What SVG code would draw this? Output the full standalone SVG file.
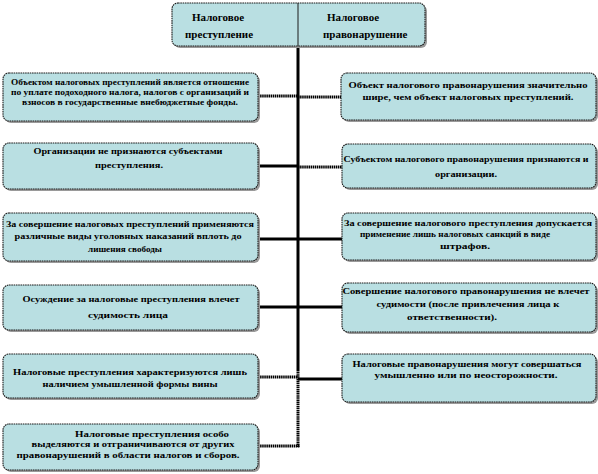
<svg xmlns="http://www.w3.org/2000/svg" width="598" height="474" viewBox="0 0 598 474">
<defs>
<style>
.box{fill:#b9dfe2;stroke:#1a1a1a;stroke-width:1.1;stroke-dasharray:1.6 0.7}
.sh{fill:#9a9a9a}
.t{font-family:"Liberation Serif","Times New Roman",serif;font-weight:bold;font-size:9px;fill:#000;text-anchor:middle}
.h{font-family:"Liberation Serif","Times New Roman",serif;font-weight:bold;font-size:11px;fill:#000}
.c{stroke:#000;stroke-width:3;fill:none}
.d{stroke:#000;stroke-width:3;fill:none;stroke-dasharray:1.5 0.6}
</style>
</defs>
<rect width="598" height="474" fill="#fff"/>
<g id="connectors">
<line class="c" x1="298" y1="46" x2="298" y2="370"/>
<line class="d" x1="298" y1="370" x2="298" y2="447"/>
<line class="d" x1="258" y1="96" x2="298" y2="96"/>
<line class="d" x1="298" y1="97" x2="341" y2="97"/>
<line class="c" x1="258" y1="166" x2="298" y2="166"/>
<line class="d" x1="298" y1="167" x2="342" y2="167"/>
<line class="c" x1="258" y1="239" x2="298" y2="239"/>
<line class="c" x1="298" y1="239" x2="342" y2="239"/>
<line class="c" x1="258" y1="307" x2="298" y2="307"/>
<line class="c" x1="298" y1="307" x2="342" y2="307"/>
<line class="d" x1="258" y1="377" x2="298" y2="377"/>
<line class="c" x1="298" y1="379" x2="342" y2="379"/>
<line class="d" x1="258" y1="446" x2="299.5" y2="446"/>
</g>
<g id="header">
<rect class="sh" x="174" y="5" width="253" height="43" rx="6"/>
<rect class="box" x="172" y="3" width="253" height="43" rx="6"/>
<line x1="298" y1="3" x2="298" y2="46" stroke="#1a1a1a" stroke-width="1"/>
<text class="h" x="192" y="21">Налоговое</text>
<text class="h" x="185" y="38">преступление</text>
<text class="h" x="327" y="21">Налоговое</text>
<text class="h" x="323" y="38">правонарушение</text>
</g>
<g id="left1">
<rect class="sh" x="5" y="75" width="255" height="48" rx="6"/>
<rect class="box" x="3" y="73" width="255" height="48" rx="6"/>
<text class="t" x="130" y="85" textLength="238" lengthAdjust="spacingAndGlyphs">Объектом налоговых преступлений является отношение</text>
<text class="t" x="130" y="95" textLength="238" lengthAdjust="spacingAndGlyphs">по уплате подоходного налога, налогов с организаций и</text>
<text class="t" x="130" y="105" textLength="216" lengthAdjust="spacingAndGlyphs">взносов в государственные внебюджетные фонды.</text>
</g>
<g id="right1">
<rect class="sh" x="343" y="75" width="255" height="47" rx="6"/>
<rect class="box" x="341" y="73" width="255" height="47" rx="6"/>
<text class="t" x="468" y="88" textLength="239" lengthAdjust="spacingAndGlyphs">Объект налогового правонарушения значительно</text>
<text class="t" x="468" y="100" textLength="211" lengthAdjust="spacingAndGlyphs">шире, чем объект налоговых преступлений.</text>
</g>
<g id="left2">
<rect class="sh" x="5" y="145" width="255" height="46" rx="6"/>
<rect class="box" x="3" y="143" width="255" height="46" rx="6"/>
<text class="t" x="128" y="154" textLength="189" lengthAdjust="spacingAndGlyphs">Организации не признаются субъектами</text>
<text class="t" x="129" y="168" textLength="68" lengthAdjust="spacingAndGlyphs">преступления.</text>
</g>
<g id="right2">
<rect class="sh" x="344" y="146" width="254" height="44" rx="6"/>
<rect class="box" x="342" y="144" width="254" height="44" rx="6"/>
<text class="t" x="466" y="162" textLength="245" lengthAdjust="spacingAndGlyphs">Субъектом налогового правонарушения признаются и</text>
<text class="t" x="466" y="177" textLength="62" lengthAdjust="spacingAndGlyphs">организации.</text>
</g>
<g id="left3">
<rect class="sh" x="5" y="215" width="255" height="48" rx="6"/>
<rect class="box" x="3" y="213" width="255" height="48" rx="6"/>
<text class="t" x="130" y="227" textLength="248" lengthAdjust="spacingAndGlyphs">За совершение налоговых преступлений применяются</text>
<text class="t" x="128" y="239" textLength="227" lengthAdjust="spacingAndGlyphs">различные виды уголовных наказаний вплоть до</text>
<text class="t" x="125" y="252" textLength="74" lengthAdjust="spacingAndGlyphs">лишения свободы</text>
</g>
<g id="right3">
<rect class="sh" x="344" y="215" width="254" height="47" rx="6"/>
<rect class="box" x="342" y="213" width="254" height="47" rx="6"/>
<text class="t" x="468" y="226" textLength="248" lengthAdjust="spacingAndGlyphs">За совершение налогового преступления допускается</text>
<text class="t" x="455" y="237" textLength="190" lengthAdjust="spacingAndGlyphs">применение лишь налоговых санкций в виде</text>
<text class="t" x="465" y="249" textLength="50" lengthAdjust="spacingAndGlyphs">штрафов.</text>
</g>
<g id="left4">
<rect class="sh" x="5" y="287" width="255" height="45" rx="6"/>
<rect class="box" x="3" y="285" width="255" height="45" rx="6"/>
<text class="t" x="131" y="302" textLength="217" lengthAdjust="spacingAndGlyphs">Осуждение за налоговые преступления влечет</text>
<text class="t" x="128" y="318" textLength="80" lengthAdjust="spacingAndGlyphs">судимость лица</text>
</g>
<g id="right4">
<rect class="sh" x="344" y="285" width="254" height="49" rx="6"/>
<rect class="box" x="342" y="283" width="254" height="49" rx="6"/>
<text class="t" x="466" y="294" textLength="247" lengthAdjust="spacingAndGlyphs">Совершение налогового правонарушения не влечет</text>
<text class="t" x="468" y="307" textLength="183" lengthAdjust="spacingAndGlyphs">судимости (после привлечения лица к</text>
<text class="t" x="452" y="320" textLength="90" lengthAdjust="spacingAndGlyphs">ответственности).</text>
</g>
<g id="left5">
<rect class="sh" x="5" y="356" width="255" height="44" rx="6"/>
<rect class="box" x="3" y="354" width="255" height="44" rx="6"/>
<text class="t" x="130" y="375" textLength="234" lengthAdjust="spacingAndGlyphs">Налоговые преступления характеризуются лишь</text>
<text class="t" x="130" y="387" textLength="175" lengthAdjust="spacingAndGlyphs">наличием умышленной формы вины</text>
</g>
<g id="right5">
<rect class="sh" x="344" y="356" width="254" height="48" rx="6"/>
<rect class="box" x="342" y="354" width="254" height="48" rx="6"/>
<text class="t" x="467" y="367" textLength="229" lengthAdjust="spacingAndGlyphs">Налоговые правонарушения могут совершаться</text>
<text class="t" x="466" y="378" textLength="183" lengthAdjust="spacingAndGlyphs">умышленно или по неосторожности.</text>
</g>
<g id="left6">
<rect class="sh" x="5" y="426" width="255" height="46" rx="6"/>
<rect class="box" x="3" y="424" width="255" height="46" rx="6"/>
<text class="t" x="152" y="437" textLength="154" lengthAdjust="spacingAndGlyphs">Налоговые преступления особо</text>
<text class="t" x="133" y="447" textLength="203" lengthAdjust="spacingAndGlyphs">выделяются и отграничиваются от других</text>
<text class="t" x="128" y="458" textLength="223" lengthAdjust="spacingAndGlyphs">правонарушений в области налогов и сборов.</text>
</g>
</svg>
